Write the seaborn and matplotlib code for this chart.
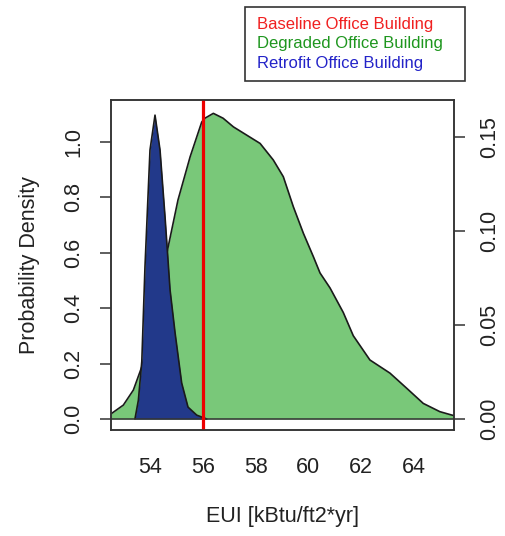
import matplotlib
matplotlib.use("Agg")
import matplotlib.pyplot as plt
from matplotlib.patches import Rectangle
import seaborn as sns

# density of the degraded building (right axis)
green_x = [52.52, 52.55, 52.99, 53.37, 53.69, 54.20, 54.69, 55.06, 55.52, 55.96, 56.08, 56.40,
           56.77, 57.16, 58.17, 58.67, 59.05, 59.43, 59.81, 60.19, 60.44, 60.82, 61.32,
           61.70, 62.33, 63.09, 63.72, 64.35, 64.98, 65.43, 65.52]
green_y = [0.0028, 0.0030, 0.0074, 0.0154, 0.0278, 0.058, 0.0917, 0.1165, 0.1395, 0.158, 0.160, 0.1626,
           0.160, 0.1554, 0.1466, 0.1378, 0.1289, 0.1129, 0.0988, 0.0863, 0.0777, 0.0697, 0.0567,
           0.0443, 0.0314, 0.0244, 0.0164, 0.0083, 0.0039, 0.0021, 0.0018]

# density of the retrofit building (left axis)
blue_x = [53.43, 53.56, 53.69, 53.81, 54.00, 54.19, 54.38, 54.57, 54.76, 54.95, 55.20, 55.44, 55.77, 56.15]
blue_y = [0.0, 0.068, 0.208, 0.549, 0.971, 1.097, 0.971, 0.729, 0.466, 0.311, 0.130, 0.043, 0.014, 0.0]

baseline_eui = 56.0

x_ticks = [54, 56, 58, 60, 62, 64]
left_ticks = [0.0, 0.2, 0.4, 0.6, 0.8, 1.0]
left_labels = ["0.0", "0.2", "0.4", "0.6", "0.8", "1.0"]
right_ticks = [0.0, 0.05, 0.10, 0.15]
right_labels = ["0.00", "0.05", "0.10", "0.15"]

legend_labels = ["Baseline Office Building", "Degraded Office Building", "Retrofit Office Building"]
legend_colors = ["#F02020", "#1E961E", "#2323C8"]

sns.set_theme(style="white")
plt.rcParams['font.family'] = ['Liberation Sans', 'DejaVu Sans']
plt.rcParams['text.color'] = '#222222'
plt.rcParams['axes.labelcolor'] = '#222222'

fig = plt.figure(figsize=(5.05, 5.36), dpi=100)
ax = fig.add_axes([111/505, 1 - 430/536, 343/505, 330/536])
ax2 = ax.twinx()
ax.set_zorder(ax2.get_zorder() + 1)
ax.patch.set_visible(False)

# green on the right axis, under the blue one
ax2.fill_between(green_x, 0, green_y, color="#79C879", lw=0)
sns.lineplot(x=green_x, y=green_y, ax=ax2, color="#1a1a1a", lw=1.2, sort=False)

ax.fill_between(blue_x, 0, blue_y, color="#22398A", lw=0)
sns.lineplot(x=blue_x, y=blue_y, ax=ax, color="#1a1a1a", lw=1.2, sort=False)

ax.axhline(0, color="#333333", lw=1.1)
ax.axvline(baseline_eui, color="#EE0000", lw=2.3)

ax.set_xlim(52.523, 65.515)
ax.set_ylim(-0.0397, 1.1516)
ax2.set_ylim(-0.00585, 0.1697)

ax.set_xticks(x_ticks)
ax.set_xticklabels([str(t) for t in x_ticks])
ax.set_yticks(left_ticks)
ax.set_yticklabels(left_labels)
ax2.set_yticks(right_ticks)
ax2.set_yticklabels(right_labels)

for a in (ax, ax2):
    for s in a.spines.values():
        s.set_color("#333333")
        s.set_linewidth(1.1)
    a.tick_params(length=8, width=1.1, color="#333333", labelsize=15.5, labelcolor="#222222")
ax.tick_params(axis='x', pad=11.5)
ax.tick_params(axis='y', labelrotation=90, pad=11)
ax2.tick_params(axis='y', labelrotation=90, pad=10)
for lab in ax.get_yticklabels() + ax2.get_yticklabels():
    lab.set_va('center')

ax.set_xlabel("EUI [kBtu/ft2*yr]", fontsize=15.5, labelpad=20)
ax.set_ylabel("Probability Density", fontsize=15.5, labelpad=17)
ax2.set_ylabel("")

# legend box above the plot
fig.patches.append(Rectangle((245/505, 1 - 81/536), 220/505, 74/536, transform=fig.transFigure,
                             fill=False, edgecolor="#333333", lw=1.2))
for i, (lab, col) in enumerate(zip(legend_labels, legend_colors)):
    fig.text(257/505, 1 - (24 + 19.6*i)/536, lab, color=col, fontsize=12, va='center', ha='left')

fig.savefig("out.png", dpi=100)
